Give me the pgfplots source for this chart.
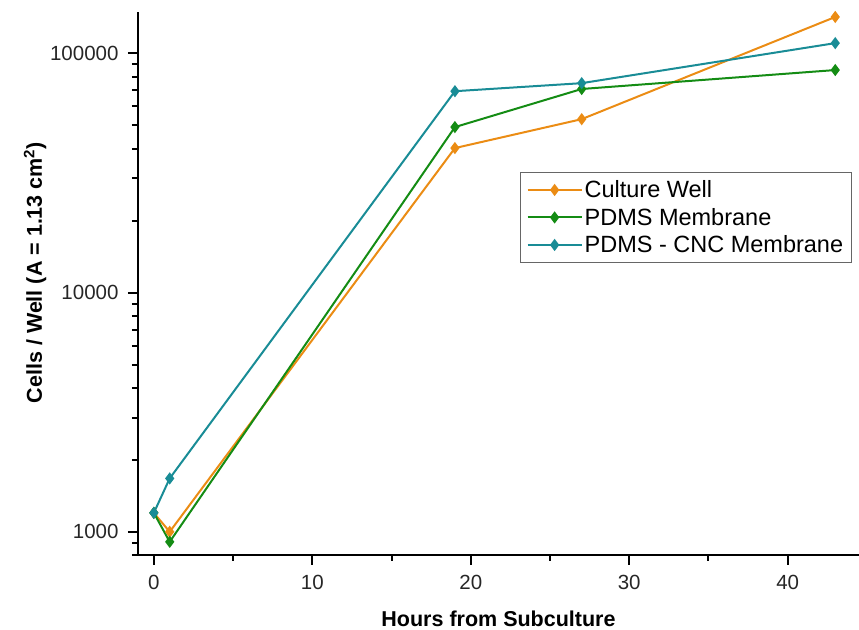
\documentclass[border=0pt]{standalone}
\usepackage{fontspec}
\setmainfont{Liberation Sans}
\usepackage{pgfplots}
\pgfplotsset{compat=1.18}
\definecolor{cwell}{RGB}{235,140,20}
\definecolor{pdms}{RGB}{20,140,20}
\definecolor{cnc}{RGB}{25,140,150}
\begin{document}
\begin{tikzpicture}
\begin{axis}[
    scale only axis,
    width=721pt, height=543pt,
    ymode=log,
    xmin=-1, xmax=44.5,
    ymin=800, ymax=149000,
    axis lines*=left,
    axis line style={-, line width=2.2pt, black},
    tick align=outside,
    major tick length=10pt, minor tick length=6pt,
    every tick/.style={black, line width=2pt},
    xtick={0,10,20,30,40},
    minor xtick={5,15,25,35},
    ytick={1000,10000,100000},
    yticklabels={1000,10000,100000},
    minor ytick={800,900,2000,3000,4000,5000,6000,7000,8000,9000,20000,30000,40000,50000,60000,70000,80000,90000},
    /pgf/number format/assume math mode=true,
    tick label style={font=\fontsize{20.5}{24}\selectfont, text=black!85},
    xticklabel style={yshift=-7pt},
    yticklabel style={xshift=-6pt},
    xlabel={\textbf{Hours from Subculture}},
    ylabel={\textbf{Cells / Well (A = 1.13 cm\textsuperscript{2})}},
    label style={font=\fontsize{21.5}{25}\selectfont},
    xlabel style={at={(0.5,0)}, anchor=base, yshift=-72pt},
    ylabel style={at={(0,0.52)}, anchor=base, yshift=96pt},
    legend style={at={(0.53,0.705)}, anchor=north west, draw=black!60, line width=1pt,
        font=\fontsize{23.5}{28}\selectfont, inner xsep=6pt, inner ysep=6pt, row sep=5pt},
    legend cell align=left,
    legend image code/.code={\draw[mark repeat=2,mark phase=2] plot coordinates {(0pt,0pt) (27pt,0pt) (54pt,0pt)};},
    every axis plot/.append style={line width=2pt, mark=diamond*, mark size=4.5pt},
]
\addplot[color=cwell, mark options={fill=cwell}] coordinates {
    (0,1200) (1,1000) (19,40200) (27,53100) (43,142000)
};
\addlegendentry{Culture Well}
\addplot[color=pdms, mark options={fill=pdms}] coordinates {
    (0,1200) (1,908) (19,49200) (27,71000) (43,85200)
};
\addlegendentry{PDMS Membrane}
\addplot[color=cnc, mark options={fill=cnc}] coordinates {
    (0,1200) (1,1672) (19,69500) (27,75100) (43,110400)
};
\addlegendentry{PDMS - CNC Membrane}
\end{axis}
\path (current axis.south west) ++(-138pt,-75pt) coordinate (bbl);
\path (current axis.north east) ++(0pt,12pt) coordinate (btr);
\pgfresetboundingbox
\useasboundingbox (bbl) rectangle (btr);
\end{tikzpicture}
\end{document}
